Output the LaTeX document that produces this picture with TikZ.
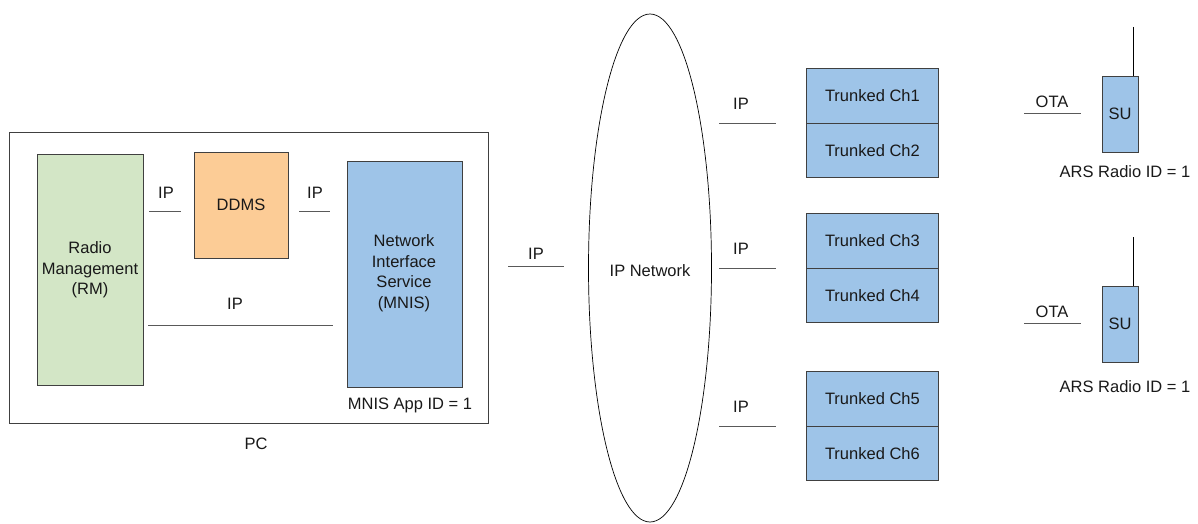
\documentclass[tikz,border=0pt]{standalone}
\usepackage{fontspec}
\setmainfont{Liberation Sans}
\begin{document}
\begin{tikzpicture}[x=1pt,y=-1pt,
  every node/.style={font=\fontsize{16.5}{20.5}\selectfont, text=black!90},
  box/.style={draw=black!75, line width=0.8pt, inner sep=0pt},
  lnk/.style={draw=black!65, line width=0.9pt},
  lbl/.style={inner sep=0pt, align=center}]
\useasboundingbox (0,0) rectangle (1198,524);
% PC
\node[box, minimum width=479, minimum height=291, anchor=north west] (pc) at (9,132) {};
\node[lbl] (pclbl) at (256,444) {PC};
\node[box, fill={rgb,255:red,211;green,230;blue,198}, minimum width=106, minimum height=231, anchor=north west] (rm) at (37,154) {};
\node[lbl] at (90,270) {Radio\\Management\\(RM)};
\node[box, fill={rgb,255:red,252;green,204;blue,150}, minimum width=94, minimum height=106, anchor=north west] (ddms) at (194,152) {};
\node[lbl] at (241,205) {DDMS};
\node[box, fill={rgb,255:red,158;green,196;blue,232}, minimum width=115, minimum height=226, anchor=north west] (mnis) at (347,161) {};
\node[lbl] at (404,273) {Network\\Interface\\Service\\(MNIS)};
\node[lbl] (appid) at (410,405) {MNIS App ID = 1};
% internal IP links
\coordinate (a1) at (149,211); \coordinate (a2) at (181,211);
\draw[lnk] (a1) -- (a2); \node[lbl] at (166,193) {IP};
\coordinate (b1) at (299,211); \coordinate (b2) at (330,211);
\draw[lnk] (b1) -- (b2); \node[lbl] at (315,193) {IP};
\coordinate (c1) at (148,325); \coordinate (c2) at (333,325);
\draw[lnk] (c1) -- (c2); \node[lbl] at (235,304) {IP};
\coordinate (d1) at (508,266); \coordinate (d2) at (564,266);
\draw[lnk] (d1) -- (d2); \node[lbl] at (536,254) {IP};
% IP network
\draw[draw=black, line width=0.7pt] (650,268) ellipse [x radius=61.5, y radius=254];
\node[lbl] (net) at (650,271) {IP Network};
% trunked channels
\foreach \t/\n/\m [count=\i] in {68/1/2, 213/3/4, 371/5/6}{
  \node[box, fill={rgb,255:red,158;green,196;blue,232}, minimum width=132, minimum height=55, anchor=north west] (ch\n) at (806,\t) {};
  \node[lbl] at (ch\n.center) {Trunked Ch\n};
  \node[box, fill={rgb,255:red,158;green,196;blue,232}, minimum width=132, minimum height=54, anchor=north west] (ch\m) at (806,\t+55) {};
  \node[lbl] at (ch\m.center) {Trunked Ch\m};
  \coordinate (e\i a) at (719,\t+55);
  \coordinate (e\i b) at (776,\t+55);
  \draw[lnk] (e\i a) -- (e\i b);
  \node[lbl] at (741,\t+36) {IP};
}
% SUs
\foreach \t/\i/\g in {76/1/96, 286/2/101}{
  \node[box, fill={rgb,255:red,158;green,196;blue,232}, minimum width=36, minimum height=76, anchor=north west] (su\i) at (1102,\t) {};
  \node[lbl] at (1120,\t+38) {SU};
  \coordinate (ant\i) at (1133,\t-49);
  \draw[black, line width=0.7pt] (ant\i) -- (su\i.north east -| ant\i);
  \coordinate (o\i a) at (1024,\t+37);
  \coordinate (o\i b) at (1081,\t+37);
  \draw[lnk] (o\i a) -- (o\i b);
  \node[lbl] at (1052,\t+26) {OTA};
  \node[lbl] at (1125,\t+\g) {ARS Radio ID = 1};
}
\end{tikzpicture}
\end{document}
